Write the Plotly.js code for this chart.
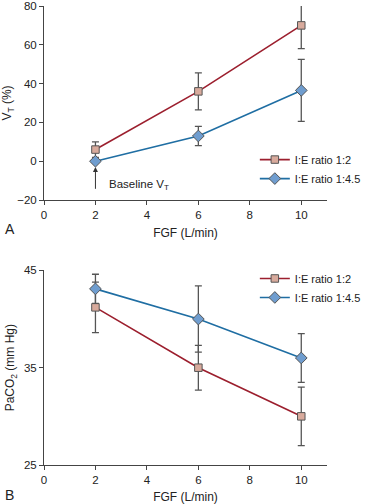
<!DOCTYPE html>
<html>
<head>
<meta charset="utf-8">
<script src="https://cdn.plot.ly/plotly-3.0.1.min.js"></script>
<style>html,body{margin:0;padding:0;background:#fff;}#chart{width:365px;height:504px;}</style>
</head>
<body>
<div id="chart"></div>
<script>
// Data
const fgf = [2, 6, 10];
const seriesNames = ["I:E ratio 1:2", "I:E ratio 1:4.5"];
// Panel A: VT (%)
const vtRatio12 = [6, 36, 70];
const vtRatio12Err = [4, 9.5, 12];
const vtRatio45 = [0, 13, 36.5];
const vtRatio45Err = [0, 5, 16];
// Panel B: PaCO2 (mm Hg)
const pacoRatio12 = [41.2, 35, 30];
const pacoRatio12Err = [2.6, 2.3, 3];
const pacoRatio45 = [43.1, 40, 36];
const pacoRatio45Err = [1.5, 3.4, 2.5];
const xTicks = [0, 2, 4, 6, 8, 10];
const yTicksA = [-20, 0, 20, 40, 60, 80];
const yTicksB = [25, 35, 45];

const red = "#9c1f2e", blue = "#1f6ea3";
const sqFill = "#d8aa9c", dmFill = "#6f9dcf";
const errCol = "#555555";
const font = "Liberation Sans, Arial, sans-serif";

function tr(x, y, err, name, color, fill, symbol, xa, ya, legend, size) {
  return {
    x: x, y: y, name: name, type: "scatter", mode: "lines+markers",
    xaxis: xa, yaxis: ya, legend: legend,
    line: {color: color, width: 1.6},
    marker: {symbol: symbol, size: size, color: fill, line: {color: "#555", width: 1}},
    error_y: {type: "data", array: err, visible: true, color: errCol, thickness: 1.3, width: 3.5}
  };
}

const data = [
  tr(fgf, vtRatio12, vtRatio12Err, seriesNames[0], red, sqFill, "square", "x", "y", "legend", 7.5),
  tr(fgf, vtRatio45, vtRatio45Err, seriesNames[1], blue, dmFill, "diamond", "x", "y", "legend", 9),
  tr(fgf, pacoRatio12, pacoRatio12Err, seriesNames[0], red, sqFill, "square", "x2", "y2", "legend2", 7.5),
  tr(fgf, pacoRatio45, pacoRatio45Err, seriesNames[1], blue, dmFill, "diamond", "x2", "y2", "legend2", 9)
];

const axBase = {
  showgrid: false, zeroline: false, showline: true, linecolor: "#444", linewidth: 1,
  ticks: "outside", ticklen: 4, tickcolor: "#444", tickwidth: 1,
  tickfont: {family: font, size: 11.5, color: "#222"}
};

const layout = {
  width: 365, height: 504,
  margin: {l: 44, r: 38, t: 6, b: 39, autoexpand: false},
  paper_bgcolor: "#fff", plot_bgcolor: "#fff",
  font: {family: font, size: 11.5, color: "#222"},
  xaxis: Object.assign({}, axBase, {range: [0, 11], tickvals: xTicks, anchor: "y",
    title: {text: "FGF (L/min)", font: {family: font, size: 12}, standoff: 8}}),
  yaxis: Object.assign({}, axBase, {range: [-20, 80], tickvals: yTicksA, domain: [0.5773, 1], anchor: "x",
    ticktext: yTicksA.map(v => v < 0 ? "\u2212" + Math.abs(v) : String(v)),
    title: {text: "V<sub>T</sub> (%)", font: {family: font, size: 12}, standoff: 6}}),
  xaxis2: Object.assign({}, axBase, {range: [0, 11], tickvals: xTicks, anchor: "y2",
    title: {text: "FGF (L/min)", font: {family: font, size: 12}, standoff: 8}}),
  yaxis2: Object.assign({}, axBase, {range: [25, 45], tickvals: yTicksB, domain: [0, 0.424], anchor: "x2",
    title: {text: "PaCO<sub>2</sub> (mm Hg)", font: {family: font, size: 12}, standoff: 6}}),
  legend: {x: 0.745, xanchor: "left", y: 0.697, yanchor: "top", bgcolor: "rgba(0,0,0,0)",
    font: {family: font, size: 11, color: "#222"}, tracegroupgap: 0, itemwidth: 30},
  legend2: {x: 0.745, xanchor: "left", y: 0.438, yanchor: "top", bgcolor: "rgba(0,0,0,0)",
    font: {family: font, size: 11, color: "#222"}, tracegroupgap: 0, itemwidth: 30},
  showlegend: true,
  annotations: [
    {xref: "x", yref: "y", x: 2, y: -3, axref: "x", ayref: "y", ax: 2, ay: -15, text: "",
      showarrow: true, arrowhead: 2, arrowsize: 1, arrowwidth: 1, arrowcolor: "#333"},
    {xref: "x", yref: "y", x: 2.45, y: -12.3, text: "Baseline V<sub>T</sub>", showarrow: false,
      xanchor: "left", font: {family: font, size: 11.5, color: "#222"}},
    {xref: "paper", yref: "paper", x: -0.145, y: 0.514, xanchor: "left", yanchor: "middle",
      text: "A", showarrow: false, font: {family: font, size: 14, color: "#222"}},
    {xref: "paper", yref: "paper", x: -0.145, y: -0.065, xanchor: "left", yanchor: "middle",
      text: "B", showarrow: false, font: {family: font, size: 14, color: "#222"}}
  ]
};

Plotly.newPlot("chart", data, layout, {displayModeBar: false, staticPlot: true});
</script>
</body>
</html>
